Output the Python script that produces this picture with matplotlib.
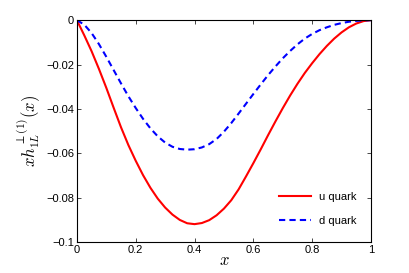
import numpy as np
import matplotlib
matplotlib.use("Agg")
import matplotlib.pyplot as plt

plt.rcParams['font.family'] = ['Liberation Sans', 'DejaVu Sans']
plt.rcParams['mathtext.fontset'] = 'cm'

# values
x = [0.0, 0.025, 0.05, 0.075, 0.1, 0.125, 0.15, 0.175, 0.2, 0.225, 0.25,
     0.275, 0.3, 0.325, 0.35, 0.375, 0.4, 0.425, 0.45, 0.475, 0.5,
     0.525, 0.55, 0.575, 0.6, 0.625, 0.65, 0.675, 0.7, 0.725, 0.75,
     0.775, 0.8, 0.825, 0.85, 0.875, 0.9, 0.925, 0.95, 0.975, 1.0]

u_quark = [0.0, -0.0068, -0.0140, -0.0220, -0.0305, -0.0395, -0.0483, -0.0563, -0.0634, -0.0699, -0.0756,
           -0.0805, -0.0845, -0.0877, -0.0901, -0.0916, -0.0920, -0.0915, -0.0902, -0.0880, -0.0850,
           -0.0812, -0.0763, -0.0705, -0.0645, -0.0583, -0.0519, -0.0457, -0.0397, -0.0340, -0.0287,
           -0.0238, -0.0194, -0.0153, -0.0116, -0.0083, -0.0055, -0.0032, -0.0015, -0.0004, 0.0]

d_quark = [0.0, -0.0020, -0.0058, -0.0108, -0.0165, -0.0225, -0.0285, -0.0343, -0.0396, -0.0445, -0.0488,
           -0.0524, -0.0552, -0.0571, -0.0581, -0.0584, -0.0582, -0.0574, -0.0559, -0.0536, -0.0503,
           -0.0464, -0.0421, -0.0377, -0.0333, -0.0290, -0.0248, -0.0209, -0.0172, -0.0139, -0.0109,
           -0.0083, -0.0062, -0.0045, -0.0032, -0.0021, -0.0013, -0.0007, -0.0003, -0.0001, 0.0]

fig = plt.figure(figsize=(4.09, 2.73), dpi=100)
ax = fig.add_axes([0.188, 0.114, 0.719, 0.812])

ax.plot(x, u_quark, color='red', lw=1.5, label='u quark', solid_joinstyle='round')
ax.plot(x, d_quark, color='blue', lw=1.5, linestyle=(0, (3, 2)), label='d quark')

ax.set_xlim(0, 1)
ax.set_ylim(-0.1, 0)
ax.set_xticks([0, 0.2, 0.4, 0.6, 0.8, 1])
ax.set_xticklabels(['0', '0.2', '0.4', '0.6', '0.8', '1'])
ax.set_yticks([-0.1, -0.08, -0.06, -0.04, -0.02, 0])
ax.set_yticklabels(['\u22120.1', '\u22120.08', '\u22120.06', '\u22120.04', '\u22120.02', '0'])
ax.tick_params(direction='in', top=True, right=True, labelsize=8, length=3, width=0.5, pad=2)
for s in ax.spines.values():
    s.set_linewidth(0.8)

ax.set_xlabel('$x$', fontsize=12, labelpad=-1)
ax.set_ylabel(r'$xh_{1L}^{\perp(1)}(x)$', fontsize=12, labelpad=2)

ax.legend(loc='lower right', frameon=False, fontsize=8, handlelength=2.8,
          labelspacing=1.3, borderaxespad=0.6, bbox_to_anchor=(0.99, 0.02))

fig.savefig('out.png', dpi=100)
